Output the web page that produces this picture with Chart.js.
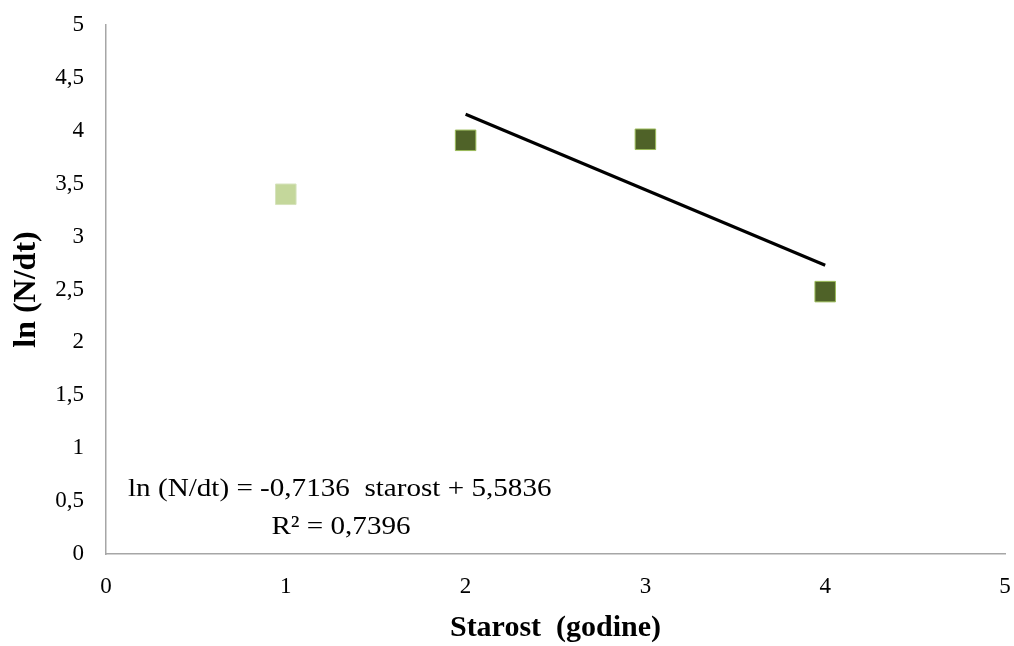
<!DOCTYPE html>
<html>
<head>
<meta charset="utf-8">
<script src="https://cdn.jsdelivr.net/npm/chart.js@4.4.1/dist/chart.umd.min.js"></script>
<style>
html,body{margin:0;padding:0;background:#fff;}
#wrap{width:1014px;height:646px;position:relative;}
</style>
</head>
<body>
<div id="wrap"><canvas id="c" width="1014" height="646"></canvas></div>
<script>
// ---- data ----
const firstYearAge = [1];
const firstYearValue = [3.40];
const laterAges = [2, 3, 4];
const laterValues = [3.91, 3.92, 2.48];
const trendRange = [2, 4];
const trendCoef = [-0.7136, 5.5836]; // slope, intercept
const yTickLabels = ['0','0,5','1','1,5','2','2,5','3','3,5','4','4,5','5'];
const xTickLabels = ['0','1','2','3','4','5'];
const equationLines = ['ln (N/dt) = -0,7136  starost + 5,5836', 'R\u00B2 = 0,7396'];
const xTitle = 'Starost  (godine)';
const yTitle = 'ln (N/dt)';

const serif = "'Liberation Serif', 'Times New Roman', serif";

const eqPlugin = {
  id: 'eq',
  afterDatasetsDraw(chart) {
    const ctx = chart.ctx;
    const left = chart.chartArea.left;
    ctx.save();
    ctx.fillStyle = '#000';
    ctx.font = "26px " + serif;
    ctx.textBaseline = 'alphabetic';
    const sx = 1.12;
    ctx.save();
    ctx.translate(left + 22, 496);
    ctx.scale(sx, 1);
    ctx.textAlign = 'left';
    ctx.fillText(equationLines[0], 0, 0);
    ctx.restore();
    ctx.save();
    ctx.translate(341, 534);
    ctx.scale(sx, 1);
    ctx.textAlign = 'center';
    ctx.fillText(equationLines[1], 0, 0);
    ctx.restore();
    ctx.restore();
  }
};

new Chart(document.getElementById('c'), {
  type: 'scatter',
  data: {
    datasets: [
      {
        data: firstYearAge.map((a, i) => ({x: a, y: firstYearValue[i]})),
        pointStyle: 'rect',
        pointRadius: 14.5,
        backgroundColor: '#c4d79b',
        borderColor: '#d6e3bc',
        borderWidth: 1
      },
      {
        data: laterAges.map((a, i) => ({x: a, y: laterValues[i]})),
        pointStyle: 'rect',
        pointRadius: 14.5,
        backgroundColor: '#4f6228',
        borderColor: '#9bbb59',
        borderWidth: 1
      },
      {
        type: 'line',
        data: trendRange.map(a => ({x: a, y: trendCoef[0] * a + trendCoef[1]})),
        borderColor: '#000',
        borderWidth: 3,
        pointRadius: 0,
        fill: false
      }
    ]
  },
  options: {
    responsive: false,
    animation: false,
    layout: { autoPadding: false, padding: { left: 0, right: 9, top: 25, bottom: 0 } },
    plugins: { legend: { display: false }, tooltip: { enabled: false } },
    scales: {
      x: {
        type: 'linear',
        min: 0, max: 5,
        ticks: {
          stepSize: 1,
          padding: 19,
          color: '#000',
          font: { family: serif, size: 23 },
          callback: (v) => xTickLabels[Math.round(v)]
        },
        grid: { display: false, drawTicks: false },
        border: { display: true, color: '#a6a6a6', width: 1.5 },
        title: {
          display: true,
          text: xTitle,
          color: '#000',
          font: { family: serif, size: 30, weight: 'bold' },
          padding: { top: 0, bottom: 0 }
        },
        afterFit: (s) => { s.height = 92; s.paddingLeft = 0; s.paddingRight = 0; }
      },
      y: {
        type: 'linear',
        min: 0, max: 5,
        ticks: {
          stepSize: 0.5,
          padding: 22,
          color: '#000',
          font: { family: serif, size: 23 },
          callback: (v) => yTickLabels[Math.round(v * 2)]
        },
        grid: { display: false, drawTicks: false },
        border: { display: true, color: '#a6a6a6', width: 1.5 },
        title: {
          display: true,
          text: yTitle,
          color: '#000',
          font: { family: serif, size: 32, weight: 'bold' },
          padding: { top: 8, bottom: 0 }
        },
        afterFit: (s) => { s.width = 106; s.paddingTop = 0; s.paddingBottom = 0; }
      }
    }
  },
  plugins: [eqPlugin]
});
</script>
</body>
</html>
